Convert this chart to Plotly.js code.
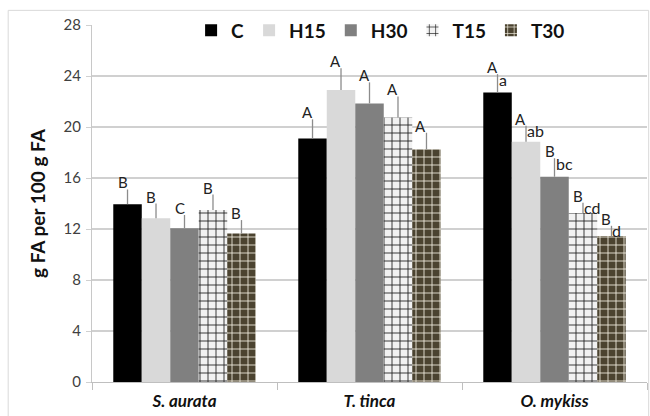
<!DOCTYPE html>
<html>
<head>
<meta charset="utf-8">
<script src="https://cdn.plot.ly/plotly-3.0.1.min.js"></script>
<style>html,body{margin:0;padding:0;background:#fff;}#chart{width:650px;height:416px;}</style>
</head>
<body>
<div id="chart"></div>
<script>
// ---- data ----
const species = ["<b><i>S. aurata</i></b>", "<b><i>T. tinca</i></b>", "<b><i>O. mykiss</i></b>"];
const groups = ["C", "H15", "H30", "T15", "T30"];
const meanC   = [13.95, 19.1, 22.7];
const meanH15 = [12.85, 22.9, 18.85];
const meanH30 = [12.05, 21.85, 16.1];
const meanT15 = [13.5, 20.75, 13.25];
const meanT30 = [11.65, 18.25, 11.45];
const errC   = [1.15, 1.5, 1.45];
const errH15 = [1.15, 1.7, 1.25];
const errH30 = [1.05, 1.65, 1.45];
const errT15 = [1.2, 1.65, 0.8];
const errT30 = [1.05, 1.3, 0.8];
const upperC   = ["B", "A", "A"];
const upperH15 = ["B", "A", "A"];
const upperH30 = ["C", "A", "B"];
const upperT15 = ["B", "A", "B"];
const upperT30 = ["B", "A", "B"];
const lowerC   = ["", "", "a"];
const lowerH15 = ["", "", "ab"];
const lowerH30 = ["", "", "bc"];
const lowerT15 = ["", "", "cd"];
const lowerT30 = ["", "", "d"];
const yTicks = [0, 4, 8, 12, 16, 20, 24, 28];

const means = [meanC, meanH15, meanH30, meanT15, meanT30];
const errs = [errC, errH15, errH30, errT15, errT30];
const uppers = [upperC, upperH15, upperH30, upperT15, upperT30];
const lowers = [lowerC, lowerH15, lowerH30, lowerT15, lowerT30];

const markers = [
  {color: "#000000"},
  {color: "#d9d9d9"},
  {color: "#808080"},
  {color: "#f2f2f2", pattern: {shape: "+", fgcolor: "#1a1a1a", bgcolor: "#f2f2f2", size: 8, solidity: 0.2}},
  {color: "#4b4330", pattern: {shape: "+", fgcolor: "#f4f0e2", bgcolor: "#4b4330", size: 8, solidity: 0.2}}
];

const traces = groups.map((g, k) => ({
  type: "bar",
  name: g,
  x: species,
  y: means[k],
  marker: Object.assign({line: {width: 0}}, markers[k]),
  error_y: {type: "data", symmetric: false, array: errs[k], arrayminus: errs[k].map(() => 0),
            color: "#8c8c8c", thickness: 1.3, width: 0}
}));

const bargap = 0.23;
const w = (1 - bargap) / groups.length;
const annotations = [];
groups.forEach((g, k) => {
  species.forEach((s, i) => {
    const xc = i + (k - (groups.length - 1) / 2) * w;
    const top = means[k][i] + errs[k][i];
    if (uppers[k][i]) annotations.push({
      x: xc, y: top, xref: "x", yref: "y", text: uppers[k][i], showarrow: false,
      xanchor: "right", yanchor: "bottom", xshift: 1, yshift: -3, borderpad: 0,
      font: {family: "Lato, sans-serif", size: 15, color: "#222"}
    });
    if (lowers[k][i]) annotations.push({
      x: xc, y: top, xref: "x", yref: "y", text: lowers[k][i], showarrow: false,
      xanchor: "left", yanchor: "middle", xshift: 0, yshift: -5, borderpad: 0,
      font: {family: "Lato, sans-serif", size: 16, color: "#222"}
    });
  });
});

const layout = {
  width: 650, height: 416,
  margin: {l: 92, r: 3, t: 25, b: 34},
  paper_bgcolor: "#ffffff", plot_bgcolor: "#ffffff",
  barmode: "group", bargap: bargap, bargroupgap: 0,
  font: {family: "Lato, sans-serif", color: "#404040"},
  showlegend: true,
  legend: {orientation: "h", x: 0.52, xanchor: "center", y: 0.985, yanchor: "middle",
           bgcolor: "rgba(0,0,0,0)", font: {family: "Lato, sans-serif", size: 19, color: "#111", weight: "bold"},
           itemwidth: 30, traceorder: "normal"},
  xaxis: {type: "category", tickson: "boundaries", ticks: "outside", ticklen: 7, tickcolor: "#bfbfbf",
          showline: true, linecolor: "#bfbfbf", linewidth: 1, showgrid: false, ticklabelstandoff: 4,
          tickfont: {family: "Lato, sans-serif", size: 17, color: "#111"}},
  yaxis: {range: [0, 28], tickvals: yTicks, ticktext: yTicks.map(String), ticks: "outside", ticklen: 5,
          tickcolor: "#d0d0d0", showline: true, linecolor: "#c8c8c8", linewidth: 1,
          showgrid: true, gridcolor: "#d0d0d0", gridwidth: 1.3, zeroline: false, ticklabelstandoff: 2,
          tickfont: {family: "Lato, sans-serif", size: 15, color: "#404040"},
          title: {text: "<b>g FA per 100 g FA</b>", font: {family: "Lato, sans-serif", size: 19, color: "#111"}, standoff: 12}},
  annotations: annotations,
  shapes: [{type: "rect", xref: "paper", yref: "paper", x0: -0.151, x1: 1.003, y0: -0.2, y1: 1.041,
            line: {color: "#d9d9d9", width: 1}, layer: "below"}]
};

Plotly.newPlot("chart", traces, layout, {displayModeBar: false, staticPlot: true});
</script>
</body>
</html>
